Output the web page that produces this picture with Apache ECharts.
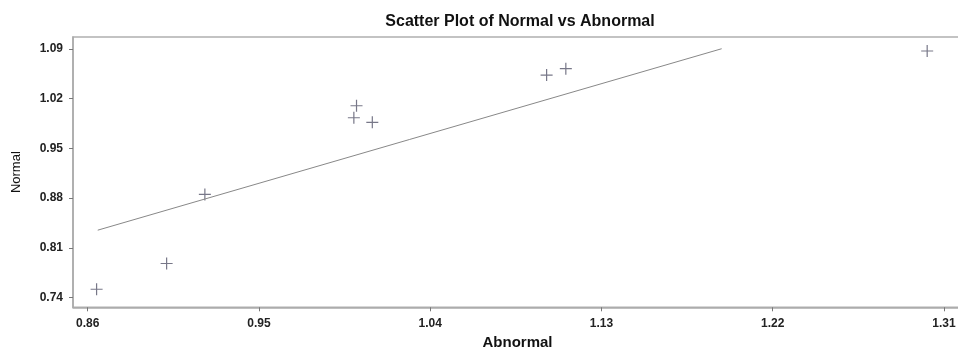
<!DOCTYPE html>
<html>
<head>
<meta charset="utf-8">
<script src="https://cdn.jsdelivr.net/npm/echarts@6/dist/echarts.min.js"></script>
<style>html,body{margin:0;padding:0;background:#fff;overflow:hidden}#c{width:958px;height:349px}</style>
</head>
<body>
<div id="c"></div>
<script>
// Data
var abnormal = [0.8647, 0.9015, 0.9216, 1.0013, 0.9999, 1.0096, 1.1012, 1.1113, 1.3012];
var normal   = [0.7517, 0.7879, 0.8851, 1.0099, 0.9930, 0.9865, 1.0531, 1.0620, 1.0869];
// fitted line endpoints
var fitX = [0.8653, 1.1932];
var fitY = [0.8348, 1.0901];
// tick labels
var xTicks = [0.86, 0.95, 1.04, 1.13, 1.22, 1.31];
var yTicks = [0.74, 0.81, 0.88, 0.95, 1.02, 1.09];

var pts = abnormal.map(function (x, i) { return [x, normal[i]]; });
var fit = fitX.map(function (x, i) { return [x, fitY[i]]; });

var plus = 'path://M4.5,0 L5.5,0 L5.5,4.5 L10,4.5 L10,5.5 L5.5,5.5 L5.5,10 L4.5,10 L4.5,5.5 L0,5.5 L0,4.5 L4.5,4.5 Z';
var font = 'Liberation Sans, Arial, sans-serif';

var chart = echarts.init(document.getElementById('c'), null, {renderer: 'canvas', width: 958, height: 349});
chart.setOption({
  animation: false,
  backgroundColor: '#fff',
  title: {
    text: 'Scatter Plot of Normal vs Abnormal',
    left: 515, top: 9, textAlign: 'center',
    textStyle: {fontFamily: font, fontSize: 16, fontWeight: 'bold', color: '#111'}
  },
  grid: {left: 73, right: -4, top: 37, bottom: 41.7, show: true, borderColor: '#b0b0b0', borderWidth: 1.5,
    containLabel: false, outerBoundsMode: 'none'},
  xAxis: {
    type: 'value', min: 0.8523, max: 1.3195,
    name: 'Abnormal', nameLocation: 'middle', nameGap: 28,
    nameTextStyle: {fontFamily: font, fontSize: 15, fontWeight: 'bold', color: '#111'},
    axisLine: {show: true, lineStyle: {color: '#aaaaaa', width: 1.5}},
    axisTick: {show: true, length: 4, customValues: xTicks, lineStyle: {color: '#777'}},
    axisLabel: {customValues: xTicks, margin: 10, fontFamily: font, fontSize: 12, fontWeight: 'bold', color: '#222',
      formatter: function (v) { return v.toFixed(2); }},
    splitLine: {show: false}
  },
  yAxis: {
    type: 'value', min: 0.7263, max: 1.1066,
    name: 'Normal', nameLocation: 'middle', nameGap: 50, nameRotate: 90,
    nameTextStyle: {fontFamily: font, fontSize: 13, color: '#111'},
    axisLine: {show: true, lineStyle: {color: '#aaaaaa', width: 1.5}},
    axisTick: {show: true, length: 4, customValues: yTicks, lineStyle: {color: '#777'}},
    axisLabel: {customValues: yTicks, margin: 10, fontFamily: font, fontSize: 12, fontWeight: 'bold', color: '#222',
      formatter: function (v) { return v.toFixed(2); }},
    splitLine: {show: false}
  },
  series: [
    {
      type: 'line', data: fit, symbol: 'none', silent: true,
      lineStyle: {color: '#888', width: 1}
    },
    {
      type: 'scatter', data: pts, symbol: plus, symbolSize: 12,
      itemStyle: {color: '#55556a'}
    }
  ]
});
</script>
</body>
</html>
